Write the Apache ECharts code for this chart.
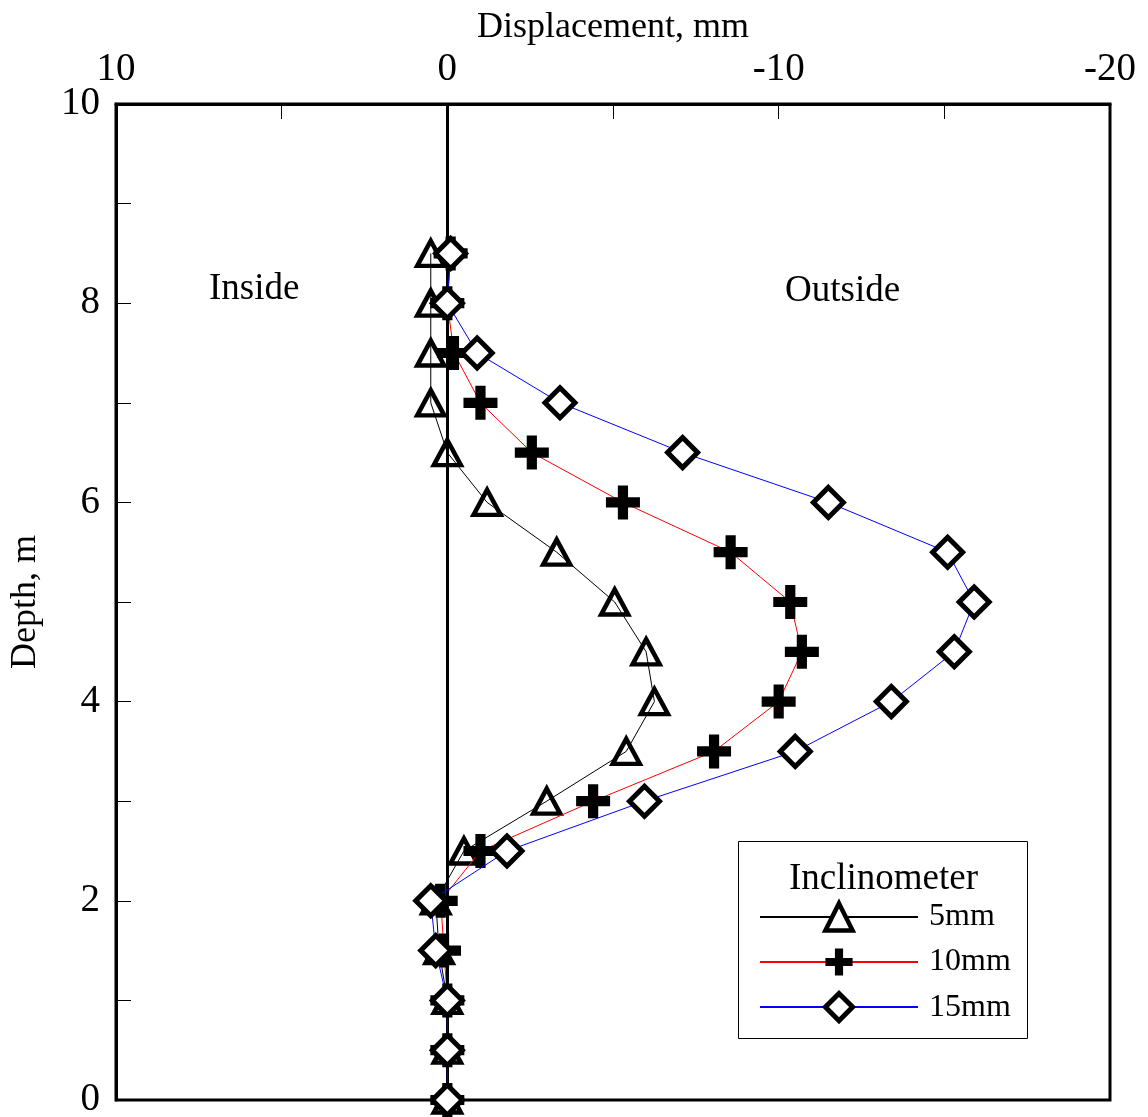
<!DOCTYPE html>
<html>
<head>
<meta charset="utf-8">
<script src="https://cdn.jsdelivr.net/npm/echarts@6/dist/echarts.min.js"></script>
<style>
  html, body { margin: 0; padding: 0; background: #fff; }
  #chart { width: 1148px; height: 1117px; }
</style>
</head>
<body>
<div id="chart"></div>
<script>
// depth of each reading, m
const depths = [0, 0.5, 1, 1.5, 2, 2.5, 3, 3.5, 4, 4.5, 5, 5.5, 6, 6.5, 7, 7.5, 8, 8.5];
// displacement, mm (positive = inside)
const disp5 = [0, 0, 0, 0.25, 0.35, -0.5, -3.0, -5.4, -6.25, -6.0, -5.05, -3.3, -1.2, 0, 0.5, 0.5, 0.5, 0.5];
const disp10 = [0, 0, 0, 0.1, 0.2, -1.0, -4.4, -8.05, -10.0, -10.7, -10.35, -8.55, -5.3, -2.55, -1.0, -0.2, 0, -0.1];
const disp15 = [0, 0, 0, 0.35, 0.5, -1.8, -5.95, -10.5, -13.4, -15.3, -15.9, -15.1, -11.5, -7.1, -3.4, -0.9, 0, -0.1];
const seriesNames = ['5mm', '10mm', '15mm'];

const FONT = '"Liberation Serif", "Times New Roman", serif';
const plusPath = 'path://M35,0 H65 V35 H100 V65 H65 V100 H35 V65 H0 V35 H35 Z';

function pairs(vals) {
  return vals.map((v, i) => [v, depths[i]]);
}

const chart = echarts.init(document.getElementById('chart'));

chart.setOption({
  animation: false,
  backgroundColor: '#fff',
  grid: {
    left: 116, right: 38, top: 104, bottom: 17,
    outerBoundsMode: 'none',
    containLabel: false,
    show: true, borderColor: '#000', borderWidth: 3
  },
  xAxis: {
    type: 'value',
    position: 'top',
    inverse: true,
    min: -20, max: 10, interval: 5,
    name: 'Displacement, mm',
    nameLocation: 'middle',
    nameGap: 54,
    nameTextStyle: { fontFamily: FONT, fontSize: 36, color: '#000' },
    axisLine: { onZero: false, lineStyle: { color: '#000', width: 3 } },
    axisTick: { inside: true, length: 15, lineStyle: { color: '#000', width: 1 } },
    axisLabel: {
      fontFamily: FONT, fontSize: 39, color: '#000', margin: 15,
      formatter: v => (v % 10 === 0 ? String(v) : '')
    },
    splitLine: { show: false }
  },
  yAxis: {
    type: 'value',
    min: 0, max: 10, interval: 1,
    name: 'Depth, m',
    nameLocation: 'middle',
    nameGap: 72,
    nameTextStyle: { fontFamily: FONT, fontSize: 36, color: '#000' },
    axisLine: { onZero: false, lineStyle: { color: '#000', width: 3 } },
    axisTick: { inside: true, length: 15, lineStyle: { color: '#000', width: 1 } },
    axisLabel: {
      fontFamily: FONT, fontSize: 39, color: '#000', margin: 16,
      formatter: v => (v % 2 === 0 ? String(v) : '')
    },
    splitLine: { show: false }
  },
  legend: {
    orient: 'vertical',
    left: 754, top: 896,
    itemWidth: 158, itemHeight: 34, itemGap: 13,
    data: [
      { name: seriesNames[0], itemStyle: { color: '#fff', borderColor: '#000', borderWidth: 4.5 } },
      { name: seriesNames[1], itemStyle: { color: '#000', borderWidth: 0 } },
      { name: seriesNames[2], itemStyle: { color: '#fff', borderColor: '#000', borderWidth: 5 } }
    ],
    textStyle: { fontFamily: FONT, fontSize: 32, color: '#000', padding: [0, 0, 0, 6] }
  },
  graphic: [
    {
      type: 'rect', left: 738, top: 841,
      shape: { width: 289, height: 197 },
      style: { fill: '#fff', stroke: '#000', lineWidth: 1 },
      z: 0
    },
    {
      type: 'text', left: 789, top: 861,
      style: { text: 'Inclinometer', font: '37px ' + FONT, fill: '#000' }
    },
    {
      type: 'text', left: 209, top: 271,
      style: { text: 'Inside', font: '37px ' + FONT, fill: '#000' }
    },
    {
      type: 'text', left: 785, top: 273,
      style: { text: 'Outside', font: '37px ' + FONT, fill: '#000' }
    }
  ],
  series: [
    {
      name: seriesNames[0],
      type: 'line',
      data: pairs(disp5),
      symbol: 'triangle',
      symbolSize: [27, 25],
      lineStyle: { color: '#000', width: 1 },
      itemStyle: { color: 'rgba(255,255,255,0)', borderColor: '#000', borderWidth: 4.5 },
      markLine: {
        silent: true,
        symbol: ['none', 'none'],
        label: { show: false },
        lineStyle: { color: '#000', width: 3, type: 'solid' },
        data: [{ xAxis: 0 }]
      },
      z: 3
    },
    {
      name: seriesNames[1],
      type: 'line',
      data: pairs(disp10),
      symbol: plusPath,
      symbolSize: 34,
      lineStyle: { color: '#ff0000', width: 1 },
      itemStyle: { color: '#000', borderWidth: 0 },
      z: 4
    },
    {
      name: seriesNames[2],
      type: 'line',
      data: pairs(disp15),
      symbol: 'diamond',
      symbolSize: [30, 30],
      lineStyle: { color: '#0000ff', width: 1 },
      itemStyle: { color: '#fff', borderColor: '#000', borderWidth: 5 },
      z: 5
    }
  ]
});
</script>
</body>
</html>
